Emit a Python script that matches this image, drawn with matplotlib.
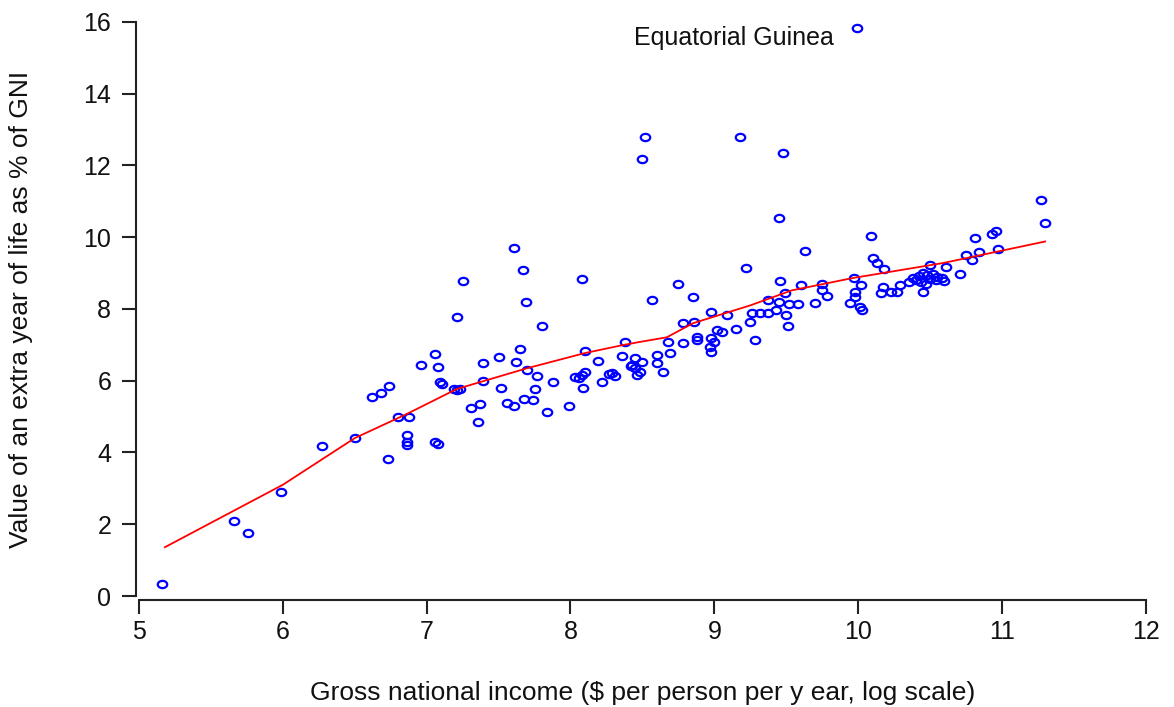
import matplotlib
matplotlib.use("Agg")
import matplotlib.pyplot as plt
import numpy as np
from matplotlib.path import Path

# ---- data ----
gni = [5.16, 5.66, 5.76, 5.99, 6.27, 6.50, 6.62, 6.68, 6.74, 6.73, 6.80, 6.88, 6.86, 6.86, 6.86,
       7.06, 7.08, 6.96, 7.06, 7.08, 7.09, 7.11, 7.19, 7.21, 7.23, 7.21, 7.25, 7.39, 7.50, 7.65,
       7.62, 7.39, 7.70, 7.77, 7.52, 7.75, 7.88, 7.31, 7.37, 7.56, 7.61, 7.68, 7.74, 7.36, 7.84,
       7.99, 7.61, 7.67, 7.69, 7.80, 8.08,
       8.10, 8.19, 8.38, 8.36, 8.03, 8.06, 8.10, 8.08, 8.09, 8.22, 8.27, 8.29, 8.31, 8.45, 8.50,
       8.43, 8.45, 8.48, 8.46, 8.42, 8.60, 8.60, 8.64, 8.68, 8.69, 8.78, 8.88, 8.88, 8.98, 9.00,
       8.97, 8.98, 9.02, 9.05, 9.15, 8.78, 8.86, 9.25, 9.28, 8.57, 8.75, 8.85, 8.98, 9.09, 9.22,
       8.50, 8.52, 9.18, 9.48, 9.45, 9.63, 9.99,
       9.26, 9.32, 9.37, 9.43, 9.45, 9.50, 9.51, 9.52, 9.58, 9.37, 9.46, 9.49, 9.60, 9.70, 9.75,
       9.75, 9.78, 9.94, 9.98, 10.01, 10.03, 9.97, 10.02, 9.98, 10.09, 10.10, 10.13, 10.18, 10.17,
       10.23, 10.29, 10.27, 10.16, 10.38, 10.42, 10.45, 10.48, 10.52, 10.55, 10.58, 10.40, 10.44,
       10.50, 10.54, 10.60, 10.47, 10.35, 10.45, 10.50, 10.61, 10.71, 10.75, 10.79, 10.81, 10.84,
       10.93, 10.96, 10.97, 11.27, 11.30]
value = [0.33, 2.09, 1.75, 2.90, 4.18, 4.40, 5.54, 5.65, 5.85, 3.82, 4.98, 4.98, 4.50, 4.30, 4.22,
         4.30, 4.23, 6.43, 6.74, 6.38, 5.96, 5.90, 5.76, 5.74, 5.78, 7.77, 8.77, 6.49, 6.66, 6.88,
         6.52, 5.99, 6.30, 6.13, 5.79, 5.77, 5.96, 5.24, 5.35, 5.38, 5.29, 5.50, 5.46, 4.85, 5.13,
         5.29, 9.69, 9.08, 8.19, 7.52, 8.83,
         6.82, 6.55, 7.08, 6.69, 6.10, 6.07, 6.24, 6.16, 5.80, 5.96, 6.18, 6.21, 6.13, 6.63, 6.52,
         6.43, 6.35, 6.24, 6.16, 6.41, 6.71, 6.49, 6.24, 7.08, 6.77, 7.05, 7.21, 7.13, 7.18, 7.08,
         6.94, 6.80, 7.41, 7.35, 7.44, 7.60, 7.63, 7.63, 7.13, 8.24, 8.69, 8.33, 7.91, 7.83, 9.14,
         12.17, 12.79, 12.79, 12.34, 10.53, 9.61, 15.82,
         7.88, 7.88, 7.88, 7.97, 8.19, 7.83, 7.52, 8.13, 8.13, 8.24, 8.77, 8.44, 8.66, 8.16, 8.69,
         8.52, 8.36, 8.16, 8.33, 8.05, 7.97, 8.86, 8.66, 8.47, 10.03, 9.41, 9.28, 9.11, 8.60,
         8.47, 8.66, 8.47, 8.44, 8.86, 8.92, 9.00, 8.95, 8.97, 8.90, 8.86, 8.80, 8.75,
         8.83, 8.80, 8.78, 8.70, 8.75, 8.47, 9.22, 9.16, 8.97, 9.50, 9.36, 9.97, 9.58,
         10.08, 10.17, 9.67, 11.03, 10.39]

fit_x = [5.18, 6.00, 6.50, 6.86, 7.00, 7.21, 7.37, 7.70, 8.10, 8.36, 8.48, 8.67, 8.85, 9.25,
         9.54, 9.64, 9.96, 10.59, 10.91, 11.30]
fit_y = [1.36, 3.10, 4.40, 5.07, 5.35, 5.77, 5.96, 6.35, 6.77, 6.99, 7.08, 7.21, 7.60, 8.10,
         8.52, 8.60, 8.86, 9.28, 9.55, 9.88]

x_ticks = [5, 6, 7, 8, 9, 10, 11, 12]
y_ticks = [0, 2, 4, 6, 8, 10, 12, 14, 16]
annot_text = "Equatorial Guinea"

plt.rcParams['font.family'] = ['Liberation Sans', 'DejaVu Sans']

fig = plt.figure(figsize=(11.74, 7.07), dpi=100)
ax = fig.add_axes([0.1184, 0.157, 0.8576, 0.812])

circ = Path.unit_circle()
ell = Path(circ.vertices * np.array([1.3, 1.0]), circ.codes)

ax.plot(gni, value, linestyle='none', marker=ell, markersize=6.8,
        markerfacecolor='none', markeredgecolor='#0000ff', markeredgewidth=1.6)
ax.plot(fit_x, fit_y, color='#ff0000', linewidth=1.3)

ax.annotate(annot_text, xy=(9.99, 15.82), xytext=(9.83, 15.55), ha='right', va='center',
            fontsize=18, color='#111111')

ax.set_xlim(5, 12)
ax.set_ylim(0, 16)
ax.set_xticks(x_ticks)
ax.set_yticks(y_ticks)
for s in ['top', 'right']:
    ax.spines[s].set_visible(False)
ax.spines['left'].set_position(('outward', 2))
ax.spines['bottom'].set_position(('outward', 3))
for s in ['left', 'bottom']:
    ax.spines[s].set_linewidth(1.5)
    ax.spines[s].set_color('#222222')
ax.tick_params(axis='both', length=10, width=1.5, color='#222222', labelsize=18,
               labelcolor='#111111')
ax.tick_params(axis='y', pad=8)
ax.tick_params(axis='x', pad=4)

ax.set_xlabel("Gross national income ($ per person per y ear, log scale)", fontsize=19,
              labelpad=27, color='#111111')
ax.set_ylabel("Value of an extra year of life as % of GNI", fontsize=19, labelpad=36,
              color='#111111')

fig.savefig("out.png", dpi=100)
